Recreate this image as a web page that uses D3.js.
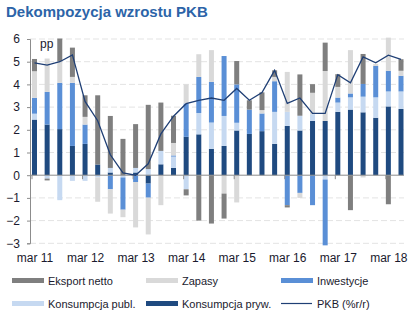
<!DOCTYPE html>
<html><head><meta charset="utf-8">
<script src="https://cdn.jsdelivr.net/npm/d3@7"></script>
<style>
html,body{margin:0;padding:0;background:#fff;}
svg{display:block;font-family:"Liberation Sans",Arial,sans-serif;}
</style></head>
<body><svg id="c" width="418" height="323"></svg>
<script>
const quarters = ["2011Q1","2011Q2","2011Q3","2011Q4","2012Q1","2012Q2","2012Q3","2012Q4","2013Q1","2013Q2","2013Q3","2013Q4","2014Q1","2014Q2","2014Q3","2014Q4","2015Q1","2015Q2","2015Q3","2015Q4","2016Q1","2016Q2","2016Q3","2016Q4","2017Q1","2017Q2","2017Q3","2017Q4","2018Q1","2018Q2"];
const konsPryw = [2.45,2.23,2.03,1.29,1.38,0.47,0.12,0,0.12,-0.37,0.48,0.32,1.69,1.8,1.16,1.29,1.97,1.82,1.94,1.38,2.17,1.97,2.39,2.39,2.79,2.89,2.77,2.53,3.03,2.92];
const konsPubl = [0.26,-0.15,-1.1,-0.25,-0.25,-0.1,0.2,-0.1,0.2,0.27,0.59,0.5,-0.62,0.94,1.16,1.32,0.34,0,0,1.41,0.62,0.65,0.3,-0.19,0.41,0.54,0.69,0.9,0.66,0.77];
const inwestycje = [0.7,1.44,2.04,2.78,0.85,0,-0.62,-1.42,-0.3,-0.62,0,0.05,1.47,1.59,1.79,2.64,1.69,1.07,0.78,1.35,-1.32,-0.78,-1.32,-2.9,0.22,0.17,0.56,1.38,0.91,0.69];
const zapasy = [1.17,1.47,0.95,0.26,0.34,-1.07,-1.07,-0.33,-2.0,-1.62,-1.32,0.55,0.84,1.0,1.4,-0.81,-1.2,0,0.15,0.19,1.76,-0.22,0.94,2.2,0.47,1.91,-0.1,0.09,1.46,0.22];
const eksportNetto = [0.54,-0.08,1.0,1.29,0.95,3.05,2.29,1.6,1.93,2.83,2.13,1.2,-0.27,-2.0,-2.13,-1.1,1.03,0.41,0.78,0.29,-0.1,1.82,0.38,1.25,0.56,-1.54,1.32,0,-1.28,0.51];
const pkb = [4.95,4.85,5.0,5.3,3.25,2.4,0.9,0.1,0.0,0.5,1.82,2.6,3.15,3.3,3.4,3.3,3.82,3.3,3.64,4.62,3.16,3.4,2.72,2.72,4.43,4.07,5.21,4.95,5.29,5.1];
const yTicks = [-3,-2,-1,0,1,2,3,4,5,6];
const xTickLabels = ["mar 11","mar 12","mar 13","mar 14","mar 15","mar 16","mar 17","mar 18"];
const seriesNames = ["Konsumpcja pryw.","Konsumpcja publ.","Inwestycje","Zapasy","Eksport netto"];
const seriesColors = ["#1f4a80","#c6d9f1","#5a8fd6","#d9d9d9","#7f7f7f"];

const svg = d3.select("#c");
const x = d3.scalePoint().domain(d3.range(quarters.length)).range([34.5, 401]);
const y = d3.scaleLinear().domain([-3, 6]).range([243.3, 39]);
const xLeft = 30, xRight = 404;

// title
svg.append("text").attr("x", 6).attr("y", 17).attr("fill", "#2c64a8")
  .attr("font-size", 15).attr("font-weight", "bold").text("Dekompozycja wzrostu PKB");

// gridlines
svg.append("g").selectAll("line").data(yTicks.filter(d => d !== 0)).join("line")
  .attr("x1", xLeft).attr("x2", xRight).attr("y1", d => y(d)).attr("y2", d => y(d))
  .attr("stroke", "#e3e3e3").attr("stroke-width", 1).attr("stroke-dasharray", "6,3");

// y axis
const yAxis = svg.append("g").attr("transform", `translate(${xLeft},0)`)
  .call(d3.axisLeft(y).tickValues(yTicks).tickSize(3).tickPadding(7).tickFormat(d3.format("d")));
yAxis.select(".domain").attr("stroke", "#8c8c8c");
yAxis.selectAll(".tick line").attr("stroke", "#8c8c8c");
yAxis.selectAll("text").attr("font-size", 12).attr("fill", "#1a1a2e").attr("font-family", "Liberation Sans, Arial, sans-serif");

// stacked bars
const rows = quarters.map((q, i) => ({i, v0: konsPryw[i], v1: konsPubl[i], v2: inwestycje[i], v3: zapasy[i], v4: eksportNetto[i]}));
const stack = d3.stack().keys(["v0","v1","v2","v3","v4"]).offset(d3.stackOffsetDiverging);
const layers = stack(rows);
const bw = 5;
svg.append("g").selectAll("g").data(layers).join("g")
  .attr("fill", (d, k) => seriesColors[k])
  .selectAll("rect").data(d => d).join("rect")
  .attr("x", d => x(d.data.i) - bw / 2).attr("width", bw)
  .attr("y", d => y(Math.max(d[0], d[1])))
  .attr("height", d => Math.abs(y(d[0]) - y(d[1])));

// x axis line at zero
svg.append("line").attr("x1", xLeft).attr("x2", xRight).attr("y1", y(0)).attr("y2", y(0))
  .attr("stroke", "#8c8c8c").attr("stroke-width", 1);
const q1Idx = d3.range(0, quarters.length, 4);
svg.append("g").selectAll("line").data(q1Idx).join("line")
  .attr("x1", d => x(d) - 2.5).attr("x2", d => x(d) - 2.5)
  .attr("y1", y(0)).attr("y2", y(0) + 4).attr("stroke", "#8c8c8c");

// x labels
const xAxis = svg.append("g").attr("transform", `translate(0,${y(-3)})`)
  .call(d3.axisBottom(x).tickValues(q1Idx).tickSize(0).tickPadding(10).tickFormat((d, k) => xTickLabels[k]));
xAxis.select(".domain").remove();
xAxis.selectAll("text").attr("font-size", 12).attr("fill", "#1a1a2e").attr("font-family", "Liberation Sans, Arial, sans-serif");

// PKB line
svg.append("path").datum(pkb)
  .attr("d", d3.line().x((d, i) => x(i)).y(d => y(d)))
  .attr("fill", "none").attr("stroke", "#1f3f75").attr("stroke-width", 1.3);

// pp label
svg.append("text").attr("x", 40).attr("y", 48).attr("font-size", 12).attr("fill", "#1a1a2e").text("pp");

// legend
const legend = [
  {name: "Eksport netto", color: seriesColors[4], x: 12, y: 278, type: "rect"},
  {name: "Zapasy", color: seriesColors[3], x: 146, y: 278, type: "rect"},
  {name: "Inwestycje", color: seriesColors[2], x: 281, y: 278, type: "rect"},
  {name: "Konsumpcja publ.", color: seriesColors[1], x: 12, y: 301, type: "rect"},
  {name: "Konsumpcja pryw.", color: seriesColors[0], x: 146, y: 301, type: "rect"},
  {name: "PKB (%r/r)", color: "#1f3f75", x: 281, y: 301, type: "line"}
];
const lg = svg.append("g").selectAll("g").data(legend).join("g");
lg.filter(d => d.type === "rect").append("rect")
  .attr("x", d => d.x).attr("y", d => d.y).attr("width", 32).attr("height", 5).attr("fill", d => d.color);
lg.filter(d => d.type === "line").append("line")
  .attr("x1", d => d.x).attr("x2", d => d.x + 31).attr("y1", d => d.y + 2.5).attr("y2", d => d.y + 2.5)
  .attr("stroke", d => d.color).attr("stroke-width", 1.2);
lg.append("text").attr("x", d => d.x + 36).attr("y", d => d.y + 7)
  .attr("font-size", 11).attr("fill", "#1a1a2e").text(d => d.name);
</script></body></html>
